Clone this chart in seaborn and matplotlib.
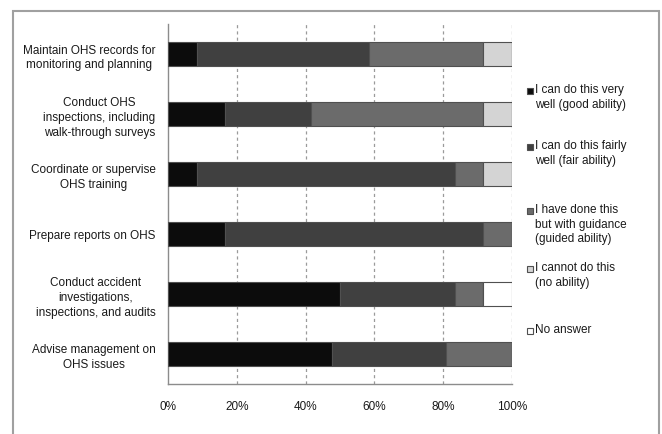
import matplotlib
matplotlib.use("Agg")
import matplotlib.pyplot as plt
from matplotlib.patches import Rectangle
import seaborn as sns
import pandas as pd
import numpy as np

categories = [
    "Maintain OHS records for\nmonitoring and planning",
    "Conduct OHS\ninspections, including\nwalk-through surveys",
    "Coordinate or supervise\nOHS training",
    "Prepare reports on OHS",
    "Conduct accident\ninvestigations,\ninspections, and audits",
    "Advise management on\nOHS issues",
]
good = [8.33, 16.67, 8.33, 16.67, 50.0, 47.62]
fair = [50.0, 25.0, 75.0, 75.0, 33.33, 33.33]
guided = [33.33, 50.0, 8.33, 8.33, 8.33, 19.05]
no_ability = [8.34, 8.33, 8.34, 0.0, 0.0, 0.0]
no_answer = [0.0, 0.0, 0.0, 0.0, 8.34, 0.0]

series_names = [
    "I can do this very\nwell (good ability)",
    "I can do this fairly\nwell (fair ability)",
    "I have done this\nbut with guidance\n(guided ability)",
    "I cannot do this\n(no ability)",
    "No answer",
]
series_values = [good, fair, guided, no_ability, no_answer]
colors = ["#0c0c0c", "#404040", "#6b6b6b", "#d4d4d4", "#ffffff"]
xticks = [0, 20, 40, 60, 80, 100]
xticklabels = ["0%", "20%", "40%", "60%", "80%", "100%"]

sns.set_style("white")
plt.rcParams["font.family"] = ["Liberation Sans", "DejaVu Sans"]

fig = plt.figure(figsize=(6.62, 4.35), dpi=100)
ax = fig.add_axes([168 / 662, 1 - 385 / 435, 344 / 662, 360 / 435])

left = np.zeros(len(categories))
for name, vals, col in zip(series_names, series_values, colors):
    df = pd.DataFrame({"cat": categories, "val": vals})
    sns.barplot(data=df, y="cat", x="val", orient="h", color=col,
                width=0.4, left=left, edgecolor="#505050", linewidth=0.8,
                saturation=1, ax=ax, zorder=3)
    left = left + np.array(vals)

ax.set_xlim(0, 100)
ax.set_ylim(5.5, -0.5)
ax.set_xlabel("")
ax.set_ylabel("")
ax.set_xticks(xticks)
ax.set_xticklabels(xticklabels, fontsize=8.5, color="#1a1a1a")
for x in xticks[1:]:
    ax.axvline(x, color="#9a9a9a", linestyle=(0, (2.5, 2.5)), linewidth=0.9, zorder=1)

for sp in ["top", "right"]:
    ax.spines[sp].set_visible(False)
for sp in ["left", "bottom"]:
    ax.spines[sp].set_color("#8c8c8c")
    ax.spines[sp].set_linewidth(1.0)

ax.tick_params(axis="x", direction="inout", length=5, color="#8c8c8c", pad=9)
ax.tick_params(axis="y", which="major", length=0, pad=9, labelsize=8.5,
               labelcolor="#1a1a1a")
ax.set_yticks(np.arange(-0.5, 6.0, 1.0), minor=True)
ax.tick_params(axis="y", which="minor", length=4, color="#8c8c8c", direction="out")
for t in ax.get_yticklabels():
    t.set_multialignment("center")
    t.set_linespacing(1.3)

# legend drawn manually (markers aligned with first line, Excel style)
leg_y = [92, 148, 212, 270, 332]
for name, col, y in zip(series_names, colors, leg_y):
    fig.patches.append(Rectangle((527 / 662, 1 - (y + 3) / 435), 6 / 662, 6 / 435,
                                 transform=fig.transFigure, facecolor=col,
                                 edgecolor="#505050", linewidth=0.8))
    fig.text(535 / 662, 1 - (y - 8) / 435, name, fontsize=8.5, va="top",
             ha="left", color="#1a1a1a", linespacing=1.3)

# outer frame
fig.patches.append(Rectangle((13 / 662, -0.1), 646 / 662, 1.1 - 12 / 435,
                             transform=fig.transFigure, fill=False,
                             edgecolor="#a0a0a0", linewidth=1.5))

fig.savefig("out.png", dpi=100)
